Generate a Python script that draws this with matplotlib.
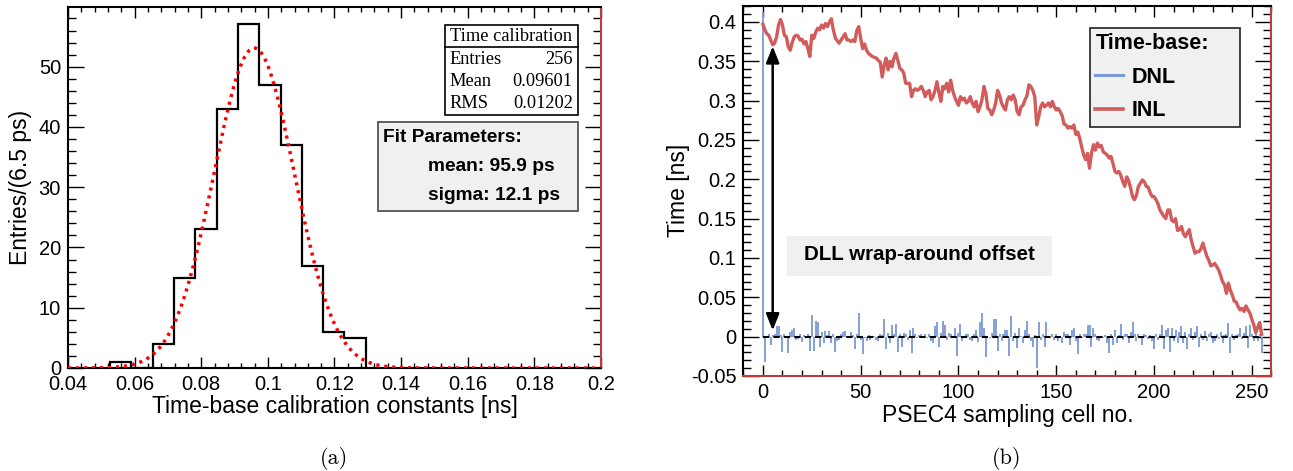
import matplotlib
matplotlib.use("Agg")  # no display

import numpy as np
import matplotlib.pyplot as plt
from matplotlib.patches import Rectangle
from matplotlib.lines import Line2D
from matplotlib.ticker import MultipleLocator, FormatStrFormatter

# ── Panel (a): time-base calibration constants histogram ─────────────────────
HIST_EDGES = [0.0526, 0.0590, 0.0654, 0.0718, 0.0782, 0.0846, 0.0910,
              0.0974, 0.1038, 0.1102, 0.1166, 0.1230, 0.1294]
HIST_COUNTS = [1, 0, 4, 15, 23, 43, 57, 47, 37, 17, 6, 5]

# gaussian fit (amplitude in entries, mean / sigma in ns)
FIT_AMP = 53.1
FIT_MEAN = 0.0959
FIT_SIGMA = 0.0121

STATS_TITLE = "Time calibration"
STATS_ROWS = [("Entries", "256"), ("Mean", "0.09601"), ("RMS", "0.01202")]
FIT_LINES = ["mean: 95.9 ps", "sigma: 12.1 ps"]

# ── Panel (b): DNL / INL per sampling cell [ns] ──────────────────────────────
INL = [
    0.397, 0.390, 0.385, 0.383, 0.377, 0.371, 0.373, 0.381, 0.396, 0.403, 0.396, 0.383, 0.381, 0.368, 0.364, 0.374,
    0.381, 0.383, 0.382, 0.377, 0.378, 0.372, 0.375, 0.366, 0.356, 0.383, 0.379, 0.387, 0.392, 0.390, 0.396, 0.392,
    0.398, 0.394, 0.400, 0.404, 0.390, 0.380, 0.376, 0.373, 0.377, 0.381, 0.385, 0.377, 0.377, 0.375, 0.377, 0.375,
    0.389, 0.394, 0.379, 0.366, 0.372, 0.364, 0.360, 0.358, 0.356, 0.355, 0.354, 0.351, 0.349, 0.330, 0.345, 0.354,
    0.339, 0.350, 0.343, 0.354, 0.360, 0.351, 0.341, 0.339, 0.335, 0.322, 0.322, 0.322, 0.305, 0.313, 0.315, 0.313,
    0.315, 0.318, 0.313, 0.305, 0.311, 0.313, 0.301, 0.305, 0.313, 0.324, 0.310, 0.299, 0.318, 0.315, 0.322, 0.311,
    0.326, 0.313, 0.305, 0.299, 0.294, 0.305, 0.301, 0.303, 0.297, 0.299, 0.305, 0.297, 0.292, 0.299, 0.286, 0.292,
    0.301, 0.318, 0.309, 0.290, 0.288, 0.282, 0.288, 0.297, 0.313, 0.307, 0.297, 0.292, 0.288, 0.301, 0.305, 0.301,
    0.307, 0.301, 0.286, 0.282, 0.292, 0.294, 0.301, 0.306, 0.320, 0.318, 0.313, 0.305, 0.269, 0.279, 0.292, 0.297,
    0.292, 0.294, 0.297, 0.292, 0.299, 0.292, 0.288, 0.290, 0.286, 0.281, 0.270, 0.269, 0.265, 0.267, 0.265, 0.269,
    0.257, 0.260, 0.252, 0.241, 0.231, 0.225, 0.233, 0.214, 0.233, 0.244, 0.237, 0.246, 0.241, 0.243, 0.235, 0.233,
    0.231, 0.227, 0.229, 0.220, 0.210, 0.208, 0.210, 0.205, 0.197, 0.191, 0.203, 0.198, 0.189, 0.178, 0.174, 0.180,
    0.191, 0.195, 0.199, 0.197, 0.191, 0.190, 0.183, 0.178, 0.178, 0.174, 0.169, 0.161, 0.157, 0.153, 0.150, 0.161,
    0.161, 0.148, 0.146, 0.150, 0.135, 0.136, 0.140, 0.131, 0.127, 0.132, 0.136, 0.123, 0.114, 0.106, 0.108, 0.108,
    0.112, 0.119, 0.110, 0.102, 0.097, 0.090, 0.091, 0.093, 0.089, 0.085, 0.078, 0.070, 0.066, 0.055, 0.068, 0.059,
    0.053, 0.045, 0.044, 0.038, 0.034, 0.036, 0.032, 0.039, 0.034, 0.030, 0.022, 0.015, 0.005, 0.012, 0.018, 0.003,
]

DNL = [
    0.412, -0.032, 0.001, 0.003, -0.011, 0.002, 0.004, 0.014, 0.013, 0.002, -0.019, 0.004, -0.001, -0.021, 0.006, 0.008,
    0.011, -0.004, -0.003, 0.003, -0.007, 0.002, -0.002, 0.003, -0.018, 0.027, -0.018, 0.020, 0.018, -0.013, 0.006, -0.008,
    0.007, 0.002, 0.007, -0.008, 0.003, -0.019, -0.006, -0.004, 0.004, 0.006, 0.007, 0.001, -0.001, 0.006, 0.002, -0.016,
    0.004, 0.030, -0.004, -0.022, -0.002, -0.006, 0.002, -0.004, -0.002, 0.001, -0.004, -0.006, 0.004, 0.002, 0.022, -0.016,
    0.005, -0.008, 0.015, 0.004, 0.016, -0.020, 0.003, -0.013, 0.005, 0.003, -0.004, 0.009, -0.021, 0.011, 0.003, -0.002,
    0.002, 0.003, -0.001, 0.003, -0.002, 0.003, -0.005, -0.008, 0.013, 0.019, -0.013, 0.005, 0.020, 0.015, -0.004, 0.005,
    0.003, -0.002, 0.011, -0.025, 0.005, 0.016, -0.005, -0.002, 0.003, 0.004, -0.004, -0.006, 0.003, 0.008, -0.007, 0.019,
    0.030, 0.011, -0.026, 0.000, -0.002, 0.005, 0.022, 0.022, -0.018, 0.004, -0.006, 0.003, 0.009, 0.009, -0.025, 0.026,
    -0.006, 0.005, -0.015, 0.011, 0.001, -0.008, 0.009, 0.020, 0.004, -0.006, -0.013, 0.002, -0.040, 0.018, -0.004, 0.004,
    -0.013, 0.018, 0.001, -0.002, 0.003, -0.004, 0.004, -0.006, 0.001, -0.008, 0.006, 0.003, 0.004, -0.011, 0.009, 0.011,
    -0.006, -0.022, 0.003, -0.002, 0.004, 0.004, 0.015, 0.015, -0.013, 0.011, 0.004, -0.004, -0.006, 0.001, -0.002, 0.002,
    -0.008, -0.021, 0.004, -0.011, 0.008, -0.008, 0.002, 0.016, -0.004, 0.004, 0.004, -0.008, 0.006, 0.018, 0.004, -0.006,
    0.004, -0.002, -0.011, 0.004, 0.002, -0.003, 0.002, -0.006, -0.016, 0.004, -0.004, 0.003, 0.015, -0.016, 0.009, 0.011,
    -0.019, 0.011, -0.006, 0.008, -0.008, 0.006, 0.013, -0.008, 0.006, -0.016, 0.004, 0.011, -0.004, 0.006, 0.013, -0.013,
    0.004, -0.004, 0.007, -0.006, 0.004, 0.006, -0.008, -0.006, 0.004, -0.003, 0.006, -0.008, 0.002, 0.004, 0.017, -0.021,
    0.004, -0.004, 0.002, 0.004, 0.011, -0.003, 0.005, 0.013, -0.015, 0.015, 0.004, -0.006, 0.003, -0.005, 0.004, -0.021,
]
CELLS = list(range(len(INL)))

# ── Styling ──────────────────────────────────────────────────────────────────
INL_COLOR = "#d25c5c"
DNL_COLOR = "#7b99d6"
FIT_COLOR = "#ff0000"
BOX_FILL = "#f0f0f0"
EDGE_RED = "#c03a3a"
TICK_FS = 14.5
TITLE_FS = 16.5

plt.rcParams["font.family"] = ["Liberation Sans", "DejaVu Sans"]


def root_style(ax, xlen, ylen):
    # ROOT-like frame: inward ticks on all four sides
    for sp in ax.spines.values():
        sp.set_linewidth(1.5)
    ax.tick_params(which="both", direction="in", top=True, right=True,
                   labelsize=TICK_FS, pad=5, width=1.0)
    ax.tick_params(axis="x", which="major", length=xlen)
    ax.tick_params(axis="x", which="minor", length=xlen / 2)
    ax.tick_params(axis="y", which="major", length=ylen)
    ax.tick_params(axis="y", which="minor", length=ylen / 2)


fig = plt.figure(figsize=(12.93, 4.71), dpi=100)
fig.patch.set_facecolor("white")

# ── (a) ──────────────────────────────────────────────────────────────────────
ax1 = fig.add_axes([0.0526, 0.2187, 0.4122, 0.7658])
ax1.axhline(0, color=FIT_COLOR, lw=1.0, zorder=1)
ax1.stairs(HIST_COUNTS, HIST_EDGES, color="black", lw=1.6, zorder=2)

xf = np.linspace(0.04, 0.2, 600)
yf = FIT_AMP * np.exp(-0.5 * ((xf - FIT_MEAN) / FIT_SIGMA) ** 2)
ax1.plot(xf, yf, color=FIT_COLOR, lw=2.5, linestyle=(0, (0.9, 1.4)), zorder=3)

ax1.set_xlim(0.04, 0.2)
ax1.set_ylim(0, 59.85)
ax1.xaxis.set_major_locator(MultipleLocator(0.02))
ax1.xaxis.set_minor_locator(MultipleLocator(0.004))
ax1.yaxis.set_major_locator(MultipleLocator(10))
ax1.yaxis.set_minor_locator(MultipleLocator(2))
ax1.xaxis.set_major_formatter(FormatStrFormatter("%g"))
root_style(ax1, 7.8, 11.5)
ax1.spines["right"].set_color(EDGE_RED)

ax1.set_xlabel("Time-base calibration constants [ns]", fontsize=TITLE_FS)
ax1.xaxis.set_label_coords(0.5, -0.107)
ax1.xaxis.label.set_va("center")
ax1.set_ylabel("Entries/(6.5 ps)", fontsize=TITLE_FS)
ax1.yaxis.set_label_coords(-0.090, 0.5)
ax1.yaxis.label.set_va("center")

# stats box
serif = ["Liberation Serif", "DejaVu Serif"]
ax1.add_patch(Rectangle((0.7073, 0.7014), 0.2495, 0.2496, transform=ax1.transAxes,
                        facecolor="white", edgecolor="black", lw=1.2, zorder=5))
ax1.plot([0.7073, 0.9568], [0.890, 0.890], transform=ax1.transAxes,
         color="black", lw=1.2, zorder=6)
ax1.text(0.832, 0.920, STATS_TITLE, transform=ax1.transAxes, ha="center",
         va="center", fontsize=13.2, family=serif, zorder=7)
for i, (name, val) in enumerate(STATS_ROWS):
    yy = 0.856 - i * 0.062
    ax1.text(0.716, yy, name, transform=ax1.transAxes, ha="left", va="center",
             fontsize=13.2, family=serif, zorder=7)
    ax1.text(0.947, yy, val, transform=ax1.transAxes, ha="right", va="center",
             fontsize=13.2, family=serif, zorder=7)

# fit parameters box
ax1.add_patch(Rectangle((0.5816, 0.4353), 0.3752, 0.2467, transform=ax1.transAxes,
                        facecolor=BOX_FILL, edgecolor="#555555", lw=1.3, zorder=5))
ax1.text(0.591, 0.640, "Fit Parameters:", transform=ax1.transAxes, ha="left",
         va="center", fontsize=13.8, fontweight="bold", zorder=7)
for i, line in enumerate(FIT_LINES):
    ax1.text(0.6754, 0.560 - i * 0.083, line, transform=ax1.transAxes, ha="left",
             va="center", fontsize=13.8, fontweight="bold", zorder=7)

# ── (b) ──────────────────────────────────────────────────────────────────────
ax2 = fig.add_axes([0.5749, 0.2017, 0.4084, 0.7862])
ax2.vlines(CELLS, 0, DNL, color=DNL_COLOR, lw=1.3, zorder=2)
ax2.plot([CELLS[0], CELLS[-1]], [0, 0], color="black", lw=1.5,
         linestyle=(0, (3, 2)), zorder=3)
ax2.plot(CELLS, INL, color=INL_COLOR, lw=2.4, zorder=4)

ax2.annotate("", xy=(5, 0.008), xytext=(5, 0.369),
             arrowprops=dict(arrowstyle="<|-|>,head_length=0.55,head_width=0.22",
                             mutation_scale=18, lw=1.8, color="black",
                             shrinkA=0, shrinkB=0), zorder=6)

ax2.add_patch(Rectangle((0.0827, 0.270), 0.5019, 0.108, transform=ax2.transAxes,
                        facecolor=BOX_FILL, edgecolor="none", zorder=5))
ax2.text(0.3327, 0.3268, "DLL wrap-around offset", transform=ax2.transAxes,
         ha="center", va="center", fontsize=14.8, fontweight="bold", zorder=6)

ax2.set_xlim(-10, 260)
ax2.set_ylim(-0.05, 0.4206)
ax2.xaxis.set_major_locator(MultipleLocator(50))
ax2.xaxis.set_minor_locator(MultipleLocator(10))
ax2.yaxis.set_major_locator(MultipleLocator(0.05))
ax2.yaxis.set_minor_locator(MultipleLocator(0.01))
ax2.yaxis.set_major_formatter(FormatStrFormatter("%g"))
root_style(ax2, 8.0, 11.4)
ax2.spines["right"].set_color(EDGE_RED)
ax2.spines["bottom"].set_color(EDGE_RED)

ax2.set_xlabel("PSEC4 sampling cell no.", fontsize=TITLE_FS)
ax2.xaxis.set_label_coords(0.5, -0.107)
ax2.xaxis.label.set_va("center")
ax2.set_ylabel("Time [ns]", fontsize=TITLE_FS)
ax2.yaxis.set_label_coords(-0.122, 0.5)
ax2.yaxis.label.set_va("center")

handles = [Line2D([], [], color=DNL_COLOR, lw=2.2),
           Line2D([], [], color=INL_COLOR, lw=2.6)]
leg = ax2.legend(handles, ["DNL", "INL"], title="Time-base:",
                 loc="upper left", bbox_to_anchor=(0.6565, 0.686, 0.284, 0.254),
                 mode="expand",
                 prop={"weight": "bold", "size": 15.5},
                 title_fontproperties={"weight": "bold", "size": 15.5},
                 alignment="left", fancybox=False, framealpha=1,
                 facecolor=BOX_FILL, edgecolor="#333333",
                 handlelength=1.3, handletextpad=0.4, labelspacing=0.58,
                 borderpad=0.25, borderaxespad=0)
leg.get_frame().set_linewidth(1.3)
leg.set_zorder(8)

# ── sub-captions ─────────────────────────────────────────────────────────────
fig.text(334 / 1293, 1 - 458 / 471, "(a)", ha="center", va="center",
         fontsize=16, family=["cmr10", "DejaVu Serif"])
fig.text(1007 / 1293, 1 - 458 / 471, "(b)", ha="center", va="center",
         fontsize=16, family=["cmr10", "DejaVu Serif"])

fig.savefig("out.png", dpi=100, facecolor="white")
